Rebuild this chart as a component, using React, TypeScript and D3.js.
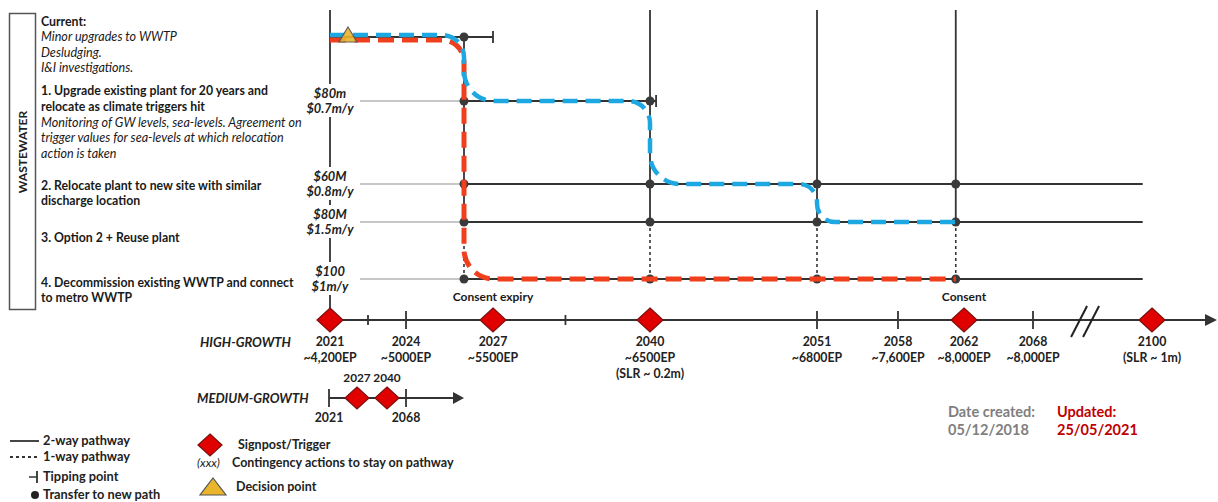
import React from 'react';
import * as d3 from 'd3';

// pathway options (rows)
const options = ['Current', 'Option 1', 'Option 2', 'Option 3', 'Option 4'];
const optionCapex = ['', '$80m', '$60M', '$80M', '$100'];
const optionOpex = ['', '$0.7m/y', '$0.8m/y', '$1.5m/y', '$1m/y'];

// high-growth timeline
const timelineYears = [2021, 2024, 2027, 2040, 2051, 2058, 2062, 2068, 2100];
const timelineEP = ['~4,200EP', '~5000EP', '~5500EP', '~6500EP', '~6800EP', '~7,600EP', '~8,000EP', '~8,000EP', ''];
const timelineSLR = ['', '', '', '(SLR ~ 0.2m)', '', '', '', '', '(SLR ~ 1m)'];
const signpostYears = [2021, 2027, 2040, 2062, 2100];
const tickYears = [2024, 2051, 2058, 2068];
const minorTickYears = [2022.5, 2033];
const noteYears = [2027, 2062];
const noteTexts = ['Consent expiry', 'Consent'];
const breakYear = 2082;

// medium-growth timeline
const mediumYears = [2021, 2027, 2040, 2068];
const mediumSignposts = [2027, 2040];
const mediumTicks = [2021, 2068];

// pathway structure
const transferYears = [2026, 2040, 2051, 2061.5];
const pathwayEndYear = 2097.5;
const tippingRows = [0, 1];
const tippingYears = [2027, 2040.4];
const dotYears = [[2026], [2026, 2040], [2026, 2040, 2051, 2061.5], [2026, 2040, 2051, 2061.5], [2026, 2040, 2051, 2061.5]];
const blueRows = [0, 1, 2, 3];
const blueSwitchYears = [2026, 2040, 2051];
const redRows = [0, 4];
const redSwitchYears = [2026];
const routeEndYear = 2061.5;

const x = d3.scaleLinear()
  .domain(timelineYears)
  .range([330, 406, 493, 650, 817, 898, 964, 1033, 1152]);

const y = d3.scaleOrdinal<string, number>()
  .domain(options)
  .range([37, 101, 184, 222, 279]);

// medium-growth strip is a compressed, non-proportional timeline
const medX = d3.scaleLinear()
  .domain(mediumYears)
  .range([329, 357, 387, 406]);

const TL = 320; // timeline y
const TOP = 10;
const DARK = '#333';
const FONT = 'Lato, "Open Sans", sans-serif';

const diamond = (s: number) => `M0,${-s} L${s + 1},0 L0,${s} L${-s - 1},0Z`;

function route(rows: number[], switches: number[], offset: number) {
  const p = d3.path();
  let cy = y(options[rows[0]]) + offset;
  p.moveTo(x(2021), cy);
  switches.forEach((yr, i) => {
    const sx = x(yr);
    const ny = y(options[rows[i + 1]]);
    const nx = i + 1 < switches.length ? x(switches[i + 1]) : x(routeEndYear);
    const dy = Math.abs(ny - cy);
    p.arcTo(sx, cy, sx, ny, Math.min(22, dy / 2 - 1));
    p.arcTo(sx, ny, nx, ny, Math.min(30, dy / 2 - 1));
    cy = ny;
  });
  p.lineTo(x(routeEndYear), cy);
  return p.toString();
}

const leftLines: [string, number, string][] = [
  ['Current:', 22, 'b'],
  ['Minor upgrades to WWTP', 37, 'i'],
  ['Desludging.', 53, 'i'],
  ['I&I investigations.', 68, 'i'],
  ['1. Upgrade existing plant for 20 years and', 91, 'b'],
  ['relocate as climate triggers hit', 107, 'b'],
  ['Monitoring of GW levels, sea-levels. Agreement on', 123, 'i'],
  ['trigger values for sea-levels at which relocation', 138, 'i'],
  ['action is taken', 154, 'i'],
  ['2. Relocate plant to new site with similar', 186, 'b'],
  ['discharge location', 201, 'b'],
  ['3. Option 2 + Reuse plant', 238, 'b'],
  ['4. Decommission existing WWTP and connect', 283, 'b'],
  ['to metro WWTP', 298, 'b'],
];

export default function App() {
  const MY = 398;
  const x0 = x(2021);
  const tlFont = 12.3;
  const medEnd = medX(2068);

  return (
    <svg width={1218} height={502} style={{ position: 'absolute', left: 0, top: 0, background: '#fff' }}
      fontFamily={FONT}>
      {/* sector box */}
      <rect x={9.5} y={13.5} width={26} height={296} fill="#fff" stroke="#555" strokeWidth={1.5} />
      <text transform="translate(26.5,152) rotate(-90)" textAnchor="middle" fontSize={12} fontWeight={700} fill="#222">WASTEWATER</text>

      {leftLines.map(([t, ly, s], i) => (
        <text key={i} x={41} y={ly} dy="0.35em" fontSize={s === 'b' ? 12.3 : 12.6} fill="#1a1a1a"
          fontWeight={s === 'b' ? 700 : 400} fontStyle={s === 'i' ? 'italic' : 'normal'}>{t}</text>
      ))}

      {/* left axis */}
      <line x1={x0} x2={x0} y1={TOP} y2={TL} stroke={DARK} strokeWidth={1.8} />

      {/* grey connectors from cost labels */}
      {options.slice(1).map(o => (
        <line key={o} x1={360} x2={x(transferYears[0])} y1={y(o)} y2={y(o)} stroke="#b5b5b5" strokeWidth={1.5} />
      ))}

      {/* horizontal pathways */}
      <line x1={x0} x2={x(tippingYears[0])} y1={y(options[0])} y2={y(options[0])} stroke={DARK} strokeWidth={1.8} />
      <line x1={x(transferYears[0])} x2={x(tippingYears[1])} y1={y(options[1])} y2={y(options[1])} stroke={DARK} strokeWidth={1.8} />
      {options.slice(2).map(o => (
        <line key={o} x1={x(transferYears[0])} x2={x(pathwayEndYear)} y1={y(o)} y2={y(o)} stroke={DARK} strokeWidth={1.8} />
      ))}
      {tippingRows.map((r, i) => (
        <line key={r} x1={x(tippingYears[i])} x2={x(tippingYears[i])} y1={y(options[r]) - 6} y2={y(options[r]) + 6} stroke={DARK} strokeWidth={1.8} />
      ))}

      {/* vertical transfers */}
      {transferYears.map((yr, i) => (
        <g key={yr}>
          <line x1={x(yr)} x2={x(yr)} y1={i === 0 ? y(options[0]) : TOP} y2={y(options[3])} stroke={DARK} strokeWidth={1.8} />
          <line x1={x(yr)} x2={x(yr)} y1={y(options[3])} y2={y(options[4])} stroke={DARK} strokeWidth={1.6} strokeDasharray="3 3" />
        </g>
      ))}

      {/* transfer dots */}
      {dotYears.map((ys, r) => ys.map(yr => (
        <circle key={`${r}-${yr}`} cx={x(yr)} cy={y(options[r])} r={4.5} fill="#3a3a3a" />
      )))}

      {/* adaptive routes */}
      <path d={route(redRows, redSwitchYears, 3)} fill="none" stroke="#ef3f1c" strokeWidth={5} strokeDasharray="16 8" />
      <path d={route(blueRows, blueSwitchYears, -2)} fill="none" stroke="#1ea8e2" strokeWidth={4.5} strokeDasharray="15 8" />

      {/* decision point */}
      <path d="M0,-9 L9,6 L-9,6Z" transform={`translate(${x0 + 18},${y(options[0]) - 1})`} fill="#e9b52c" stroke="#555" strokeWidth={1.2} opacity={0.9} />

      {/* cost labels on axis */}
      {options.map((o, i) => i === 0 ? null : (
        <g key={o} transform={`translate(${x0},${y(o)})`}>
          <rect x={-28} y={-17} width={56} height={33} fill="#fff" />
          <text y={-7} dy="0.35em" textAnchor="middle" fontSize={12.8} fontWeight={700} fontStyle="italic" fill="#222">{optionCapex[i]}</text>
          <text y={8} dy="0.35em" textAnchor="middle" fontSize={12.8} fontWeight={700} fontStyle="italic" fill="#222">{optionOpex[i]}</text>
        </g>
      ))}

      {/* high-growth timeline */}
      <line x1={x0} x2={1210} y1={TL} y2={TL} stroke={DARK} strokeWidth={1.8} />
      <path d={`M1205,${TL - 6} L1217,${TL} L1205,${TL + 6}Z`} fill={DARK} />
      {tickYears.map(yr => (
        <line key={yr} x1={x(yr)} x2={x(yr)} y1={TL - 9} y2={TL + 9} stroke={DARK} strokeWidth={1.8} />
      ))}
      {minorTickYears.map(yr => (
        <line key={yr} x1={x(yr)} x2={x(yr)} y1={TL - 5} y2={TL + 5} stroke={DARK} strokeWidth={1.8} />
      ))}
      <g stroke="#222" strokeWidth={2}>
        <line x1={x(breakYear) - 14} y1={TL + 17} x2={x(breakYear) + 2} y2={TL - 14} />
        <line x1={x(breakYear) - 2} y1={TL + 17} x2={x(breakYear) + 14} y2={TL - 14} />
      </g>
      {signpostYears.map(yr => (
        <path key={yr} d={diamond(12)} transform={`translate(${x(yr)},${TL})`} fill="#e00000" stroke="#7a1010" strokeWidth={1.2} />
      ))}
      {noteYears.map((yr, i) => (
        <text key={yr} x={x(yr)} y={TL - 23} dy="0.35em" textAnchor="middle" fontSize={12} fontWeight={700} fill="#1a1a1a">{noteTexts[i]}</text>
      ))}
      {timelineYears.map((yr, i) => {
        const lines = [String(yr), timelineEP[i], timelineSLR[i]].filter(Boolean);
        return (
          <g key={yr}>
            {lines.map((t, j) => (
              <text key={j} x={x(yr)} y={TL + 22 + j * 16} dy="0.35em" textAnchor="middle" fontSize={tlFont} fontWeight={700} fill="#222">{t}</text>
            ))}
          </g>
        );
      })}
      <text x={200} y={TL + 22} dy="0.35em" fontSize={13} fontWeight={700} fontStyle="italic" fill="#222">HIGH-GROWTH</text>

      {/* medium-growth timeline */}
      <text x={197} y={MY} dy="0.35em" fontSize={13} fontWeight={700} fontStyle="italic" fill="#222">MEDIUM-GROWTH</text>
      <line x1={medX(2021)} x2={medEnd + 50} y1={MY} y2={MY} stroke={DARK} strokeWidth={1.8} />
      <path d={`M${medEnd + 47},${MY - 6} L${medEnd + 58},${MY} L${medEnd + 47},${MY + 6}Z`} fill={DARK} />
      {mediumTicks.map(yr => (
        <g key={yr}>
          <line x1={medX(yr)} x2={medX(yr)} y1={MY - 9} y2={MY + 9} stroke={DARK} strokeWidth={1.8} />
          <text x={medX(yr)} y={MY + 20} dy="0.35em" textAnchor="middle" fontSize={tlFont} fontWeight={700} fill="#222">{yr}</text>
        </g>
      ))}
      {mediumSignposts.map(yr => (
        <g key={yr}>
          <path d={diamond(11)} transform={`translate(${medX(yr)},${MY})`} fill="#e00000" stroke="#7a1010" strokeWidth={1.2} />
          <text x={medX(yr)} y={MY - 20} dy="0.35em" textAnchor="middle" fontSize={11.8} fontWeight={700} fill="#222">{yr}</text>
        </g>
      ))}

      {/* legend */}
      <g fontSize={12.8} fontWeight={700} fill="#222">
        <line x1={10} x2={39} y1={441} y2={441} stroke={DARK} strokeWidth={1.8} />
        <text x={43} y={441} dy="0.35em">2-way pathway</text>
        <line x1={10} x2={39} y1={457} y2={457} stroke={DARK} strokeWidth={1.8} strokeDasharray="3 3" />
        <text x={43} y={457} dy="0.35em">1-way pathway</text>
        <line x1={29} x2={37} y1={477} y2={477} stroke={DARK} strokeWidth={1.5} />
        <line x1={37} x2={37} y1={471} y2={483} stroke={DARK} strokeWidth={1.8} />
        <text x={43} y={477} dy="0.35em">Tipping point</text>
        <circle cx={35} cy={495} r={4} fill="#222" />
        <text x={43} y={495} dy="0.35em">Transfer to new path</text>

        <path d={diamond(11)} transform="translate(210,445)" fill="#e00000" stroke="#7a1010" strokeWidth={1.2} />
        <text x={238} y={445} dy="0.35em" fontSize={12.5}>Signpost/Trigger</text>
        <text x={197} y={463} dy="0.35em" fontWeight={400} fontStyle="italic" fontSize={12}>(xxx)</text>
        <text x={232} y={463} dy="0.35em" fontSize={12.5}>Contingency actions to stay on pathway</text>
        <path d="M0,-10 L13,7 L-13,7Z" transform="translate(213,488)" fill="#e9b52c" stroke="#555" strokeWidth={1.2} />
        <text x={236} y={487} dy="0.35em" fontSize={12.5}>Decision point</text>
      </g>

      {/* dates */}
      <g fontSize={14.5} fontWeight={700}>
        <text x={948} y={412} dy="0.35em" fill="#7f7f7f">Date created:</text>
        <text x={948} y={430} dy="0.35em" fill="#7f7f7f">05/12/2018</text>
        <text x={1057} y={412} dy="0.35em" fill="#c00000">Updated:</text>
        <text x={1057} y={430} dy="0.35em" fill="#c00000">25/05/2021</text>
      </g>
    </svg>
  );
}
